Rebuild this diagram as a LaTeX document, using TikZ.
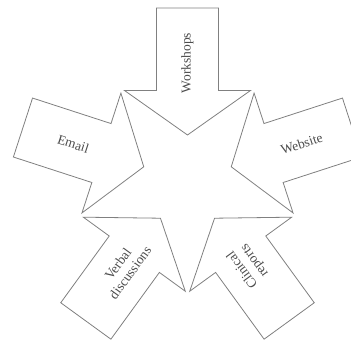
\documentclass[tikz,border=0pt]{standalone}
\usepackage{fontspec}
\setmainfont{Liberation Serif}
\usetikzlibrary{calc}
\begin{document}
\begin{tikzpicture}[x=1pt,y=1pt,
  arrowshape/.style={draw=black!50, line width=0.8pt, fill=white, line join=miter},
  lbl/.style={text=black!70, font=\fontsize{13.5}{15}\selectfont, align=center, inner sep=0pt}]
\useasboundingbox (0,0) rectangle (351,343);
\coordinate (C) at (187.5,162);
\foreach \th in {-90,-18,198,54,126}{
  \begin{scope}[shift={(C)}, rotate=\th]
    \draw[arrowshape] (-46,0) -- (-90.5,63) -- (-90.5,31) -- (-173,31) -- (-173,-31) -- (-90.5,-31) -- (-90.5,-63) -- cycle;
  \end{scope}
}
\node[lbl, rotate=90] (workshops) at ($(C)+(-90:-118)$) {Workshops};
\node[lbl, rotate=-18] (email) at ($(C)+(-18:-120)$) {Email};
\node[lbl, rotate=18] (website) at ($(C)+(198:-120)$) {Website};
\node[lbl, rotate=54] (verbal) at ($(C)+(54:-108)$) {Verbal\\discussions};
\node[lbl, rotate=126] (clinical) at ($(C)+(126:-104)$) {Clinical\\reports};
\end{tikzpicture}
\end{document}
